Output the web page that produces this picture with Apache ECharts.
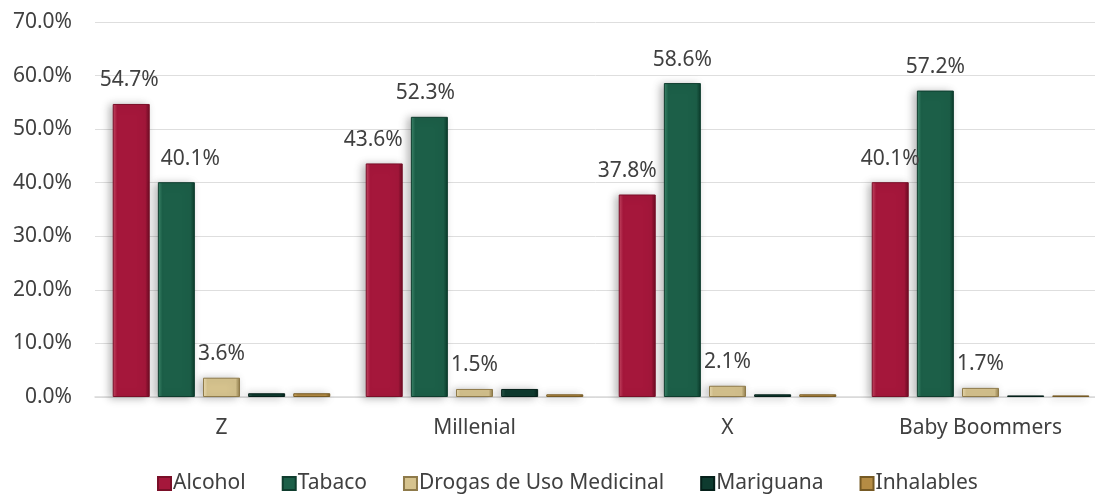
<!DOCTYPE html>
<html>
<head>
<meta charset="utf-8">
<script src="https://cdn.jsdelivr.net/npm/echarts@6/dist/echarts.min.js"></script>
<style>
  html, body { margin: 0; padding: 0; background: #fff; }
  #chart { width: 1095px; height: 495px; }
</style>
</head>
<body>
<div id="chart"></div>
<script>
const categories = ['Z', 'Millenial', 'X', 'Baby Boommers'];
const alcohol = [54.7, 43.6, 37.8, 40.1];
const tabaco = [40.1, 52.3, 58.6, 57.2];
const drogas = [3.6, 1.5, 2.1, 1.7];
const mariguana = [0.7, 1.5, 0.5, 0.3];
const inhalables = [0.7, 0.5, 0.5, 0.3];
const yTicks = [0, 10, 20, 30, 40, 50, 60, 70];

// desplazamiento horizontal de etiquetas (como en el original)
const alcoholLabelDx = [-2, -11, -10, 0];
const tabacoLabelDx = [14, -4, 0, 0];

const fontFamily = '"Source Sans Pro", "Noto Sans", "Open Sans", sans-serif';
const textColor = '#404040';

function bevel(light, base, dark) {
  return {
    type: 'linear', x: 0, y: 0, x2: 1, y2: 0,
    colorStops: [
      { offset: 0, color: light },
      { offset: 0.12, color: base },
      { offset: 0.88, color: base },
      { offset: 1, color: dark },
    ],
  };
}

function makeSeries(name, values, fill, border, labelDx) {
  return {
    name: name,
    type: 'bar',
    barWidth: 37,
    barGap: '22%',
    data: values.map((v, i) => ({
      value: v,
      label: labelDx ? { offset: [labelDx[i], 0] } : undefined,
    })),
    itemStyle: {
      color: fill,
      borderColor: border,
      borderWidth: 1,
      shadowColor: 'rgba(0, 0, 0, 0.28)',
      shadowBlur: 8,
      shadowOffsetX: -3,
      shadowOffsetY: 1,
    },
    label: {
      show: !!labelDx || name === 'Drogas de Uso Medicinal',
      position: 'top',
      distance: 13,
      color: textColor,
      fontSize: 21,
      fontFamily: fontFamily,
      formatter: (p) => p.value.toFixed(1) + '%',
    },
  };
}

const chart = echarts.init(document.getElementById('chart'));

chart.setOption({
  backgroundColor: '#fff',
  animation: false,
  grid: {
    left: 95,
    top: 22,
    width: 1012,
    height: 375,
    outerBoundsMode: 'none',
  },
  legend: {
    bottom: -4,
    left: 152,
    itemWidth: 13,
    itemHeight: 13,
    itemGap: 36,
    icon: 'rect',
    textStyle: {
      color: textColor,
      fontSize: 21,
      fontFamily: fontFamily,
      padding: [0, 0, 0, -3],
    },
    data: ['Alcohol', 'Tabaco', 'Drogas de Uso Medicinal', 'Mariguana', 'Inhalables'],
  },
  xAxis: {
    type: 'category',
    data: categories,
    axisLine: { lineStyle: { color: '#d9d9d9', width: 1.5 } },
    axisTick: { show: false },
    axisLabel: {
      color: textColor,
      fontSize: 21,
      fontFamily: fontFamily,
      margin: 21,
    },
  },
  yAxis: {
    type: 'value',
    min: yTicks[0],
    max: yTicks[yTicks.length - 1],
    interval: 10,
    axisLine: { show: false },
    axisTick: { show: false },
    splitLine: { lineStyle: { color: '#dedede', width: 1 } },
    axisLabel: {
      color: textColor,
      fontSize: 21,
      fontFamily: fontFamily,
      margin: 23,
      formatter: (v) => v.toFixed(1) + '%',
    },
  },
  series: [
    makeSeries('Alcohol', alcohol, bevel('#c84a66', '#a5173b', '#6d0c24'), '#7a0f28', alcoholLabelDx),
    makeSeries('Tabaco', tabaco, bevel('#3f8a6e', '#1c5f48', '#0b3a2a'), '#0f3d2e', tabacoLabelDx),
    makeSeries('Drogas de Uso Medicinal', drogas, bevel('#efe0b4', '#d6c38e', '#8e7a4a'), '#8e7a4a', null),
    makeSeries('Mariguana', mariguana, bevel('#2c5a4c', '#0e3b2f', '#05201a'), '#05201a', null),
    makeSeries('Inhalables', inhalables, bevel('#d8b36a', '#b58c44', '#765a24'), '#765a24', null),
  ],
});
</script>
</body>
</html>
